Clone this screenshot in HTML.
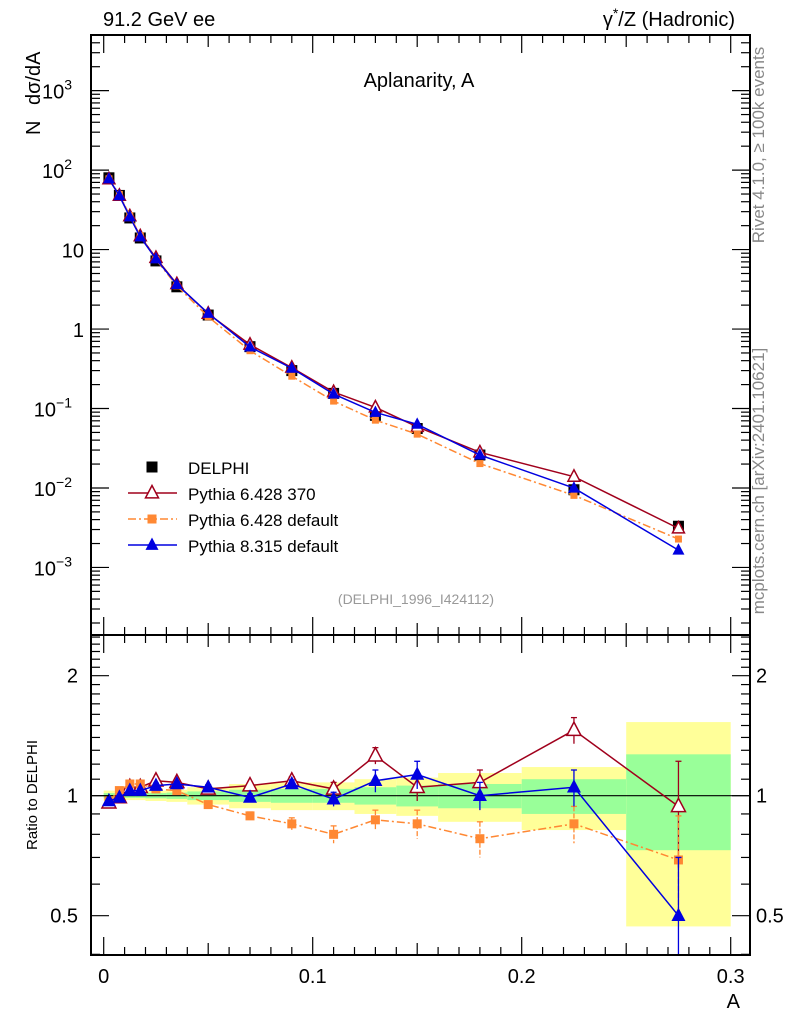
<!DOCTYPE html>
<html><head><meta charset="utf-8"><style>
html,body{margin:0;padding:0;background:#fff;}
svg{display:block;font-family:"Liberation Sans",Arial,sans-serif;}
</style></head><body>
<svg id="c" width="786" height="1024" viewBox="0 0 786 1024" xmlns="http://www.w3.org/2000/svg"></svg>
<script>
const binEdges=[0,0.005,0.01,0.015,0.02,0.03,0.04,0.06,0.08,0.1,0.12,0.14,0.16,0.2,0.25,0.3];
const binCenters=[0.0025,0.0075,0.0125,0.0175,0.025,0.035,0.05,0.07,0.09,0.11,0.13,0.15,0.18,0.225,0.275];
const delphiValues=[80,48,25,14,7.2,3.4,1.5,0.6,0.3,0.155,0.082,0.056,0.026,0.0095,0.0033];
const bandInner=[0.015,0.015,0.012,0.012,0.015,0.018,0.025,0.035,0.04,0.04,0.05,0.06,0.07,0.10,0.27];
const bandOuter=[0.03,0.03,0.025,0.025,0.03,0.035,0.05,0.07,0.08,0.08,0.10,0.11,0.14,0.18,0.53];
const ratioPy6370=[0.96,0.99,1.05,1.05,1.09,1.08,1.04,1.06,1.09,1.04,1.26,1.05,1.08,1.46,0.94];
const errPy6370=[0.01,0.01,0.01,0.01,0.015,0.015,0.015,0.02,0.025,0.04,0.06,0.08,0.08,0.11,0.28];
const ratioPy6def=[0.97,1.03,1.07,1.07,1.04,1.03,0.95,0.89,0.85,0.80,0.87,0.85,0.78,0.85,0.69];
const errPy6def=[0.01,0.01,0.01,0.01,0.015,0.015,0.015,0.02,0.03,0.04,0.05,0.07,0.08,0.09,0.20];
const ratioPy8=[0.97,0.99,1.03,1.03,1.06,1.07,1.05,0.99,1.07,0.98,1.09,1.13,1.0,1.05,0.50];
const errPy8=[0.01,0.01,0.01,0.01,0.015,0.015,0.015,0.02,0.025,0.04,0.07,0.09,0.08,0.11,0.2];
const xTicks=[0,0.1,0.2,0.3];
const xTickLabels=["0","0.1","0.2","0.3"];

const svg=document.getElementById('c');
const NS='http://www.w3.org/2000/svg';
function mk(tag,attrs,parent,txt){const e=document.createElementNS(NS,tag);for(const k in attrs)e.setAttribute(k,attrs[k]);if(txt!==undefined)e.textContent=txt;(parent||svg).appendChild(e);return e;}
const L=91,R=750,T=35,M=635,B=955;
const X=v=>103.7+v*2090;
const lMin=-3.85,lMax=3.70;
const Y=v=>T+(lMax-Math.log10(v))/(lMax-lMin)*(M-T);
const YR=v=>795.7-Math.log2(v)*120;
const clipMain=mk('clipPath',{id:'cm'});mk('rect',{x:L,y:T,width:R-L,height:M-T},clipMain);
const clipR=mk('clipPath',{id:'cr'});mk('rect',{x:L,y:M,width:R-L,height:B-M},clipR);

const gb=mk('g',{'clip-path':'url(#cr)'});

for(let i=0;i<binCenters.length;i++){
  const x0=X(binEdges[i]),x1=X(binEdges[i+1]);
  let r=mk('rect',{x:x0,y:YR(1+bandOuter[i]),width:x1-x0,height:YR(1-bandOuter[i])-YR(1+bandOuter[i]),fill:'#ffff99'},gb);
  
  r=mk('rect',{x:x0,y:YR(1+bandInner[i]),width:x1-x0,height:YR(1-bandInner[i])-YR(1+bandInner[i]),fill:'#99ff99'},gb);
  
}
mk('line',{x1:L,x2:R,y1:YR(1),y2:YR(1),stroke:'#000','stroke-width':1.2});

function marker(g,type,x,y,col,s){
  if(type==='sq')return mk('rect',{x:x-s,y:y-s,width:2*s,height:2*s,fill:col},g);
  const p=`${x},${y-s*1.15} ${x-s},${y+s*0.75} ${x+s},${y+s*0.75}`;
  if(type==='tri')return mk('polygon',{points:p,fill:col},g);
  return mk('polygon',{points:p,fill:'#fff',stroke:col,'stroke-width':1.5},g);
}
const series=[
 {name:'pythia-6428-370',ratio:ratioPy6370,err:errPy6370,col:'#a0001c',m:'otri',dash:'',s:7},
 {name:'pythia-6428-default',ratio:ratioPy6def,err:errPy6def,col:'#ff8833',m:'sq',dash:'8,3,2,3',s:4.5},
 {name:'pythia-8315-default',ratio:ratioPy8,err:errPy8,col:'#0000e0',m:'tri',dash:'',s:7}
];
const gm=mk('g',{'clip-path':'url(#cm)'});

const gd=mk('g',{},gm);
binCenters.forEach((c,i)=>{const r=marker(gd,'sq',X(c),Y(delphiValues[i]),'#000',5.5);});
series.forEach(s=>{
  const g=mk('g',{},gm);
  const pts=binCenters.map((c,i)=>X(c)+','+Y(delphiValues[i]*s.ratio[i])).join(' ');
  mk('polyline',{points:pts,fill:'none',stroke:s.col,'stroke-width':1.5,'stroke-dasharray':s.dash},g);
  binCenters.forEach((c,i)=>{const m=marker(g,s.m,X(c),Y(delphiValues[i]*s.ratio[i]),s.col,s.s-1);});
});
const gr=mk('g',{'clip-path':'url(#cr)'});

series.forEach(s=>{
  const g=mk('g',{},gr);
  binCenters.forEach((c,i)=>{const x=X(c);mk('line',{x1:x,x2:x,y1:YR(s.ratio[i]+s.err[i]),y2:YR(Math.max(s.ratio[i]-s.err[i],0.01)),stroke:s.col,'stroke-width':1.3,'stroke-dasharray':s.dash?'5,2':''},g);
    mk('line',{x1:x-3,x2:x+3,y1:YR(s.ratio[i]+s.err[i]),y2:YR(s.ratio[i]+s.err[i]),stroke:s.col,'stroke-width':1.3},g);});
  const pts=binCenters.map((c,i)=>X(c)+','+YR(s.ratio[i])).join(' ');
  mk('polyline',{points:pts,fill:'none',stroke:s.col,'stroke-width':1.5,'stroke-dasharray':s.dash},g);
  binCenters.forEach((c,i)=>{const m=marker(g,s.m,X(c),YR(s.ratio[i]),s.col,s.s);});
});

let f=mk('rect',{x:L,y:T,width:R-L,height:M-T,fill:'none',stroke:'#000','stroke-width':2});
f=mk('rect',{x:L,y:M,width:R-L,height:B-M,fill:'none',stroke:'#000','stroke-width':2});
for(let k=0;k<=30;k++){const v=k*0.01,x=X(v);const big=k%10===0;const len=big?18:(k%5===0?12:8);
  [[T,1],[M,-1],[M,1],[B,-1]].forEach(([y0,d])=>mk('line',{x1:x,x2:x,y1:y0,y2:y0+d*len,stroke:'#000','stroke-width':1.2}));}
xTicks.forEach((v,i)=>{const t=mk('text',{x:X(v),y:983,'font-size':20,'text-anchor':'middle'},svg,xTickLabels[i]);});
for(let d=-4;d<=3;d++){for(let m=1;m<10;m++){const v=m*Math.pow(10,d);const y=Y(v);if(y<T||y>M)continue;const len=m===1?18:9;
  mk('line',{x1:L,x2:L+len,y1:y,y2:y,stroke:'#000','stroke-width':1.2});mk('line',{x1:R,x2:R-len,y1:y,y2:y,stroke:'#000','stroke-width':1.2});}}
const yLab=[[3,'10','3'],[2,'10','2'],[1,'10',''],[0,'1',''],[-1,'10','−1'],[-2,'10','−2'],[-3,'10','−3']];
yLab.forEach(([d,b,e])=>{const t=mk('text',{x:e?72:84,y:Y(Math.pow(10,d))+8,'font-size':20,'text-anchor':'end'},svg);
  
  mk('tspan',{},t,b);if(e){mk('tspan',{dy:-9,'font-size':14},t,e);}});
[0.4,0.5,0.6,0.7,0.8,0.9,1,1.1,1.2,1.3,1.4,1.5,1.6,1.7,1.8,1.9,2,2.1,2.2,2.3,2.4,2.5].forEach(v=>{const y=YR(v);if(y<M||y>B)return;const big=(v===0.5||v===1||v===2);const len=big?18:9;
  mk('line',{x1:L,x2:L+len,y1:y,y2:y,stroke:'#000','stroke-width':1.2});mk('line',{x1:R,x2:R-len,y1:y,y2:y,stroke:'#000','stroke-width':1.2});});
[[2,'2'],[1,'1'],[0.5,'0.5']].forEach(([v,s])=>{let t=mk('text',{x:78,y:YR(v)+7,'font-size':20,'text-anchor':'end'},svg,s);
  t=mk('text',{x:756,y:YR(v)+7,'font-size':20},svg,s);});
function txt(name,attrs,s){const t=mk('text',attrs,svg,s);return t;}
txt('header-left',{x:103,y:26,'font-size':20},'91.2 GeV ee');
const hr=txt('header-right',{x:735,y:26,'font-size':20,'text-anchor':'end'},'');
mk('tspan',{},hr,'γ');mk('tspan',{dy:-8,'font-size':14},hr,'*');mk('tspan',{dy:8},hr,'/Z (Hadronic)');
txt('plot-title',{x:419,y:87,'font-size':20,'text-anchor':'middle'},'Aplanarity, A');
const yt=txt('y-axis-title',{x:0,y:0,'font-size':20,transform:'translate(40,135) rotate(-90)','text-anchor':'start'},'');
mk('tspan',{x:0},yt,'N');mk('tspan',{x:30},yt,'dσ/dA');
txt('ratio-axis-title',{x:0,y:0,'font-size':15,transform:'translate(37,795) rotate(-90)','text-anchor':'middle'},'Ratio to DELPHI');
txt('x-axis-title',{x:740,y:1008,'font-size':20,'text-anchor':'end'},'A');
txt('analysis-id',{x:416,y:604,'font-size':14,fill:'#999','text-anchor':'middle'},'(DELPHI_1996_I424112)');
txt('rivet-label',{x:0,y:0,'font-size':17,fill:'#888',transform:'translate(764,145) rotate(-90)','text-anchor':'middle'},'Rivet 4.1.0, ≥ 100k events');
txt('mcplots-label',{x:0,y:0,'font-size':17,fill:'#888',transform:'translate(764,481) rotate(-90)','text-anchor':'middle'},'mcplots.cern.ch [arXiv:2401.10621]');
const lg=mk('g',{});
const legRows=[['DELPHI',null],['Pythia 6.428 370',series[0]],['Pythia 6.428 default',series[1]],['Pythia 8.315 default',series[2]]];
legRows.forEach(([lab,s],i)=>{const y=467+i*26;const e=mk('g',{},lg);
  if(!s){marker(e,'sq',152,y,'#000',5.5);}else{mk('line',{x1:128,x2:177,y1:y,y2:y,stroke:s.col,'stroke-width':1.5,'stroke-dasharray':s.dash},e);marker(e,s.m,152,y,s.col,s.m==='sq'?4.5:6.5);}
  mk('text',{x:188,y:y+7,'font-size':17},e,lab);});
</script>
</body></html>
